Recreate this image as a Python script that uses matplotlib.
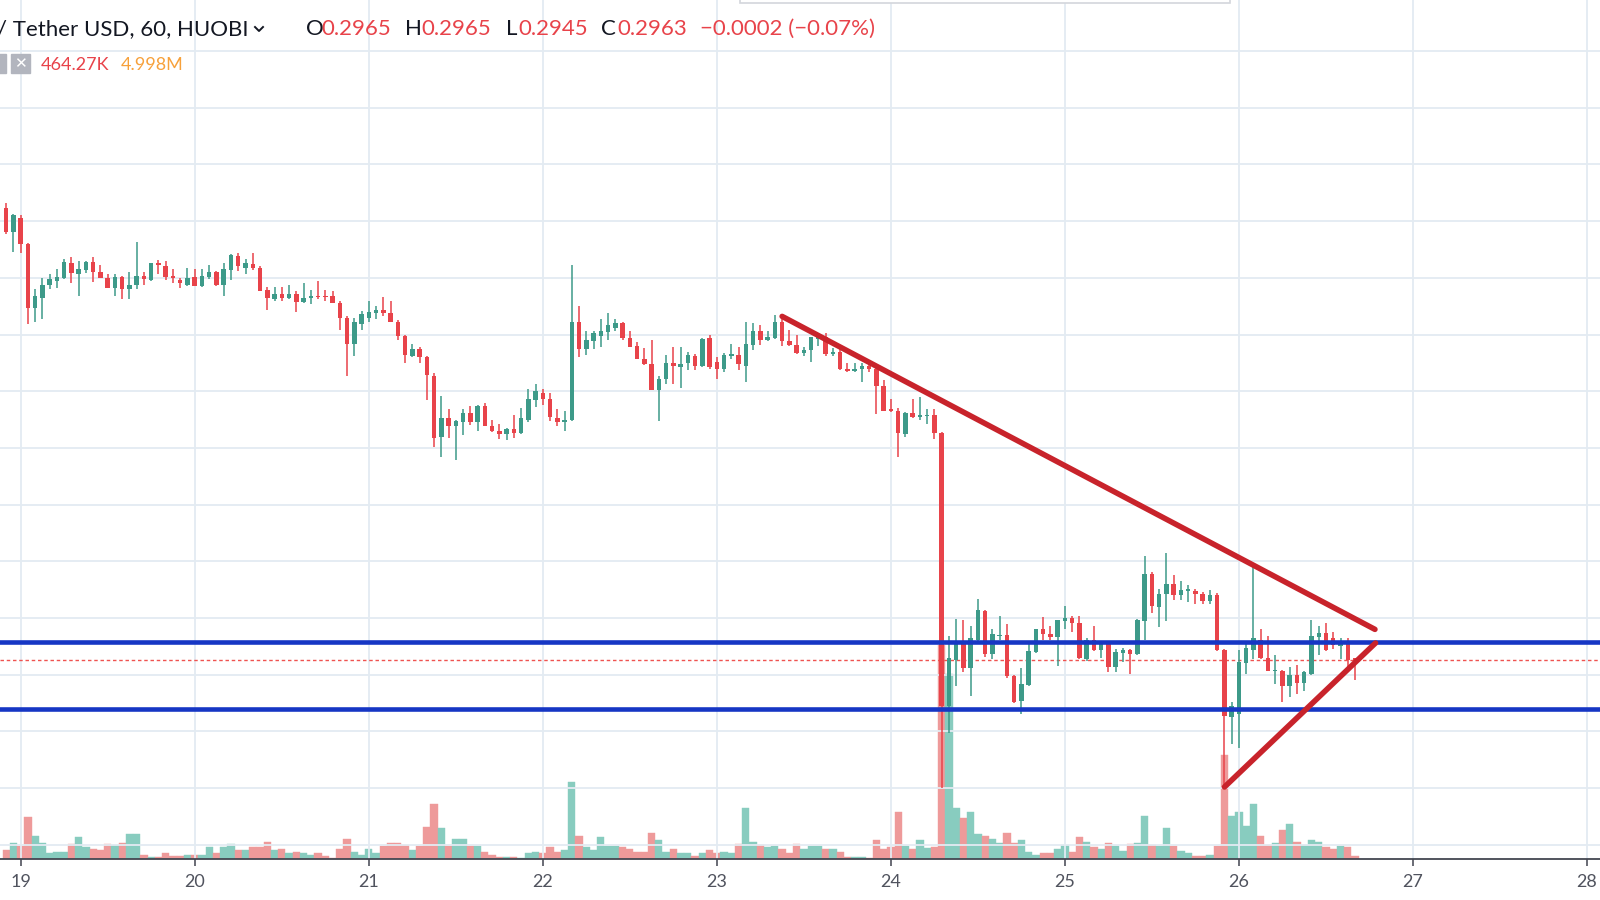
import numpy as np
import pandas as pd
import matplotlib
matplotlib.use("Agg")
import matplotlib.pyplot as plt
import matplotlib.dates as mdates
from matplotlib.patches import Rectangle
from matplotlib.lines import Line2D

plt.rcParams['font.family'] = ['Lato', 'DejaVu Sans']

# hourly candles from 2019-11-18 22:00, prices in units of 0.0001 USD
start = "2019-11-18 22:00"
opens = [3362, 3340,
         3353, 3330, 3273, 3282, 3294, 3297, 3300, 3313, 3303, 3307, 3314, 3305, 3300, 3291, 3301, 3290, 3294, 3302, 3298, 3313, 3310, 3302, 3298, 3294,
         3301, 3293, 3301, 3305, 3294, 3307, 3319, 3309, 3312, 3309, 3289, 3281, 3286, 3282, 3286, 3279, 3282, 3284, 3284, 3284, 3278, 3265, 3242, 3259,
         3265, 3269, 3272, 3269, 3261, 3249, 3231, 3237, 3230, 3213, 3160, 3176, 3169, 3173, 3181, 3173, 3187, 3169, 3165, 3162, 3167, 3163, 3175, 3192,
         3198, 3193, 3176, 3173, 3175, 3261, 3237, 3244, 3249, 3252, 3256, 3260, 3247, 3240, 3228, 3224, 3201, 3211, 3225, 3221, 3225, 3231, 3222, 3247,
         3226, 3220, 3231, 3232, 3222, 3241, 3253, 3245, 3247, 3261, 3244, 3241, 3234, 3236, 3246, 3248, 3233, 3235, 3220, 3218, 3220, 3222, 3220, 3205,
         3184, 3183, 3162, 3181, 3177, 3178, 3179, 3163, 2922, 2963, 2978, 2956, 2981, 3006, 2968, 2984, 2985, 2949, 2927, 2941, 2970, 2990, 2986, 2983,
         2997, 3000, 2996, 2964, 2981, 2972, 2978, 2957, 2969, 2972, 2968, 2997, 3039, 3010, 3021, 3030, 3020, 3024, 3024, 3021, 3015, 3020, 2972, 2913,
         2915, 2960, 2972, 2981, 2965, 2953, 2953, 2940, 2950, 2943, 2951, 2983, 2987, 2982, 2975, 2980, 2965]
highs = [3366, 3356,
         3355, 3331, 3290, 3300, 3303, 3308, 3317, 3318, 3315, 3315, 3318, 3311, 3303, 3303, 3302, 3305, 3332, 3305, 3313, 3316, 3315, 3308, 3300, 3309,
         3308, 3308, 3311, 3306, 3313, 3321, 3322, 3317, 3322, 3310, 3292, 3292, 3292, 3294, 3288, 3295, 3289, 3297, 3289, 3288, 3280, 3266, 3265, 3271,
         3280, 3275, 3283, 3280, 3263, 3250, 3242, 3239, 3231, 3216, 3196, 3184, 3175, 3184, 3187, 3188, 3190, 3175, 3171, 3168, 3179, 3185, 3202, 3206,
         3202, 3198, 3184, 3183, 3311, 3275, 3253, 3253, 3264, 3269, 3264, 3261, 3253, 3243, 3238, 3245, 3213, 3232, 3239, 3239, 3235, 3233, 3247, 3250,
         3230, 3234, 3242, 3239, 3261, 3260, 3258, 3253, 3267, 3266, 3254, 3250, 3239, 3248, 3250, 3251, 3238, 3238, 3225, 3225, 3225, 3225, 3221, 3210,
         3193, 3185, 3182, 3193, 3195, 3184, 3184, 3164, 2984, 2999, 2998, 2993, 3017, 3007, 2990, 3002, 2995, 2950, 2956, 2978, 2990, 3001, 2993, 2998,
         3011, 3002, 3002, 2982, 2993, 2979, 2979, 2973, 2974, 2973, 2999, 3055, 3041, 3026, 3057, 3038, 3033, 3029, 3026, 3023, 3025, 3022, 2973, 2926,
         2972, 2978, 3045, 2990, 2984, 2967, 2954, 2957, 2959, 2953, 2998, 2993, 2996, 2988, 2982, 2982, 2965]
lows = [3339, 3323,
        3322, 3259, 3261, 3264, 3290, 3291, 3299, 3295, 3284, 3304, 3296, 3300, 3291, 3284, 3281, 3281, 3290, 3294, 3297, 3303, 3298, 3295, 3291, 3293,
        3293, 3292, 3299, 3293, 3284, 3298, 3306, 3303, 3307, 3288, 3272, 3280, 3280, 3281, 3270, 3278, 3277, 3281, 3280, 3278, 3254, 3213, 3231, 3254,
        3261, 3264, 3266, 3261, 3245, 3225, 3230, 3225, 3192, 3151, 3142, 3159, 3139, 3161, 3170, 3165, 3169, 3164, 3158, 3157, 3159, 3162, 3173, 3186,
        3188, 3174, 3169, 3165, 3174, 3230, 3232, 3237, 3239, 3245, 3253, 3245, 3239, 3228, 3223, 3201, 3174, 3206, 3206, 3203, 3219, 3219, 3221, 3220,
        3211, 3217, 3228, 3219, 3208, 3236, 3241, 3244, 3246, 3240, 3240, 3233, 3231, 3226, 3240, 3231, 3231, 3219, 3217, 3217, 3208, 3217, 3180, 3183,
        3182, 3142, 3160, 3176, 3175, 3171, 3158, 2850, 2899, 2940, 2952, 2931, 2980, 2966, 2964, 2981, 2947, 2925, 2915, 2940, 2969, 2981, 2981, 2958,
        2990, 2988, 2964, 2962, 2971, 2965, 2952, 2952, 2961, 2951, 2967, 2981, 3004, 2992, 2997, 3016, 3016, 3014, 3012, 3012, 3012, 2971, 2851, 2889,
        2885, 2951, 2964, 2964, 2953, 2942, 2926, 2930, 2933, 2936, 2950, 2967, 2971, 2973, 2964, 2957, 2945]
closes = [3340, 3355,
          3330, 3273, 3284, 3294, 3299, 3301, 3314, 3304, 3308, 3314, 3305, 3300, 3291, 3301, 3290, 3294, 3302, 3299, 3313, 3311, 3301, 3300, 3295, 3300,
          3293, 3302, 3305, 3294, 3308, 3320, 3310, 3313, 3309, 3288, 3282, 3286, 3282, 3286, 3279, 3282, 3284, 3283, 3283, 3278, 3265, 3242, 3261, 3268,
          3270, 3272, 3269, 3261, 3249, 3232, 3237, 3230, 3214, 3159, 3176, 3169, 3174, 3181, 3173, 3187, 3169, 3165, 3162, 3167, 3163, 3176, 3193, 3200,
          3193, 3177, 3173, 3175, 3261, 3237, 3245, 3251, 3253, 3258, 3260, 3247, 3239, 3228, 3224, 3201, 3211, 3225, 3222, 3224, 3232, 3222, 3246, 3221,
          3220, 3232, 3233, 3224, 3242, 3253, 3245, 3248, 3261, 3244, 3241, 3234, 3236, 3248, 3248, 3233, 3235, 3220, 3218, 3220, 3222, 3220, 3205, 3183,
          3183, 3163, 3181, 3177, 3179, 3179, 3163, 2922, 2965, 2978, 2956, 2982, 3007, 2968, 2986, 2985, 2949, 2926, 2942, 2971, 2990, 2986, 2983, 2998,
          3000, 2996, 2965, 2981, 2972, 2978, 2957, 2970, 2972, 2968, 2998, 3039, 3011, 3021, 3030, 3020, 3025, 3025, 3021, 3015, 3020, 2972, 2914, 2922,
          2961, 2974, 2982, 2965, 2953, 2954, 2940, 2950, 2943, 2952, 2984, 2987, 2972, 2976, 2978, 2963, 2963]
# volume, millions
volumes = [1.26, 2.28,
           1.82, 5.92, 3.22, 2.28, 0.80, 0.98, 0.98, 2.06, 3.04, 1.64, 1.44, 1.26, 2.06, 1.96, 2.28, 3.46, 3.46, 0.56, 0.32, 0.32, 0.80, 0.42, 0.42, 0.56,
           0.56, 0.56, 1.64, 0.80, 1.64, 2.06, 1.26, 1.26, 1.64, 1.64, 2.42, 1.26, 1.40, 0.80, 0.98, 0.80, 0.56, 0.80, 0.42, 0.18, 1.40, 2.80, 0.98, 0.56,
           1.40, 0.80, 1.82, 2.28, 2.28, 1.96, 1.26, 1.82, 4.52, 7.70, 4.30, 1.82, 2.80, 2.80, 1.82, 1.82, 0.98, 0.56, 0.32, 0.32, 0.32, 0.18, 0.80, 0.98,
           0.80, 1.64, 0.98, 1.26, 10.82, 3.22, 1.64, 1.26, 3.04, 1.82, 1.82, 1.64, 1.40, 0.98, 0.98, 3.68, 2.66, 0.98, 1.40, 0.80, 0.80, 0.42, 0.80, 1.26,
           0.80, 0.98, 0.80, 2.06, 7.10, 2.42, 1.96, 1.64, 1.82, 1.44, 0.80, 2.06, 1.44, 1.82, 1.82, 1.40, 1.40, 0.98, 0.32, 0.32, 0.32, 0.18, 2.66, 1.44,
           1.64, 6.54, 1.82, 1.47, 2.66, 1.54, 1.68, 29.96, 25.90, 7.10, 5.70, 6.54, 3.50, 3.22, 2.80, 2.28, 3.68, 2.28, 2.66, 0.98, 0.56, 0.80, 0.80, 1.40,
           1.96, 0.98, 3.04, 2.42, 1.64, 1.40, 2.28, 1.82, 1.16, 2.06, 2.28, 6.06, 1.96, 1.82, 4.30, 1.82, 1.16, 0.80, 0.42, 0.42, 0.56, 1.82, 14.56, 6.02,
           6.54, 4.62, 7.70, 3.22, 1.96, 2.28, 4.06, 4.90, 2.42, 1.96, 2.66, 2.45, 1.68, 1.47, 1.82, 1.68, 0.46]

day_ticks = ["2019-11-%d" % d for d in range(19, 29)]
day_labels = [str(d) for d in range(19, 29)]

# drawn lines
resistance = [("2019-11-23 09:00", 0.3266), ("2019-11-26 18:45", 0.2990)]
support = [("2019-11-25 22:00", 0.2851), ("2019-11-26 18:50", 0.2978)]
zone_levels = [0.2979, 0.2920]
last_price = 0.2963

UP, DOWN = "#3d9a89", "#e8434a"
VUP, VDOWN = "#88ccbf", "#ee9a9a"
GRID = "#e3ebf2"
TXT = "#50535e"

times = pd.date_range(start, periods=len(opens), freq="h")
x = mdates.date2num(times)
o = np.array(opens) / 1e4
h = np.array(highs) / 1e4
l = np.array(lows) / 1e4
c = np.array(closes) / 1e4
up = c >= o

fig = plt.figure(figsize=(16, 9), dpi=100)
rect = [0, 41 / 900, 1, 859 / 900]
ax_vol = fig.add_axes(rect)
ax = fig.add_axes(rect, sharex=ax_vol)
ax.patch.set_visible(False)

# volume in the back
vcols = np.where(up, VUP, VDOWN)
ax_vol.bar(x, volumes, width=1.0 / 24, color=vcols, edgecolor=vcols, linewidth=0.3)
ax_vol.set_ylim(0, 859 * 0.14)
ax_vol.axis("off")

# candles
cols = np.where(up, UP, DOWN)
ax.vlines(x, l, h, colors=cols, lw=1.1, zorder=3)
ax.bar(x, np.maximum(np.abs(c - o), 0.00012), bottom=np.minimum(o, c),
       width=0.62 / 24, color=cols, linewidth=0, zorder=4)

ax.axhline(last_price, color="#ef5350", lw=1.0, ls=(0, (2.5, 2)), zorder=2)
for lv in zone_levels:
    ax.axhline(lv, color="#1636c4", lw=3.3, zorder=5)
for seg in (resistance, support):
    sx = mdates.date2num(pd.to_datetime([p[0] for p in seg]))
    sy = [p[1] for p in seg]
    ax.plot(sx, sy, color="#c8232b", lw=4.0, solid_capstyle="round", zorder=6)

d0 = mdates.date2num(pd.Timestamp("2019-11-19"))
ax.set_xlim(d0 - 20.7 / 174.04, d0 + (1600 - 20.7) / 174.04)
ax.set_ylim(0.27875, 0.35450)

ax.set_xticks(mdates.date2num(pd.to_datetime(day_ticks)))
ax.set_xticklabels(day_labels)
ax.set_yticks(np.arange(0.280, 0.3546, 0.005))
ax.set_yticklabels([])
ax.grid(True, color=GRID, lw=1.3, zorder=0)
ax.set_axisbelow(True)
ax.tick_params(axis="y", length=0)
ax.tick_params(axis="x", length=5, width=1.2, color=TXT, labelsize=13,
               labelcolor=TXT, pad=6)
for s in ("left", "right", "top"):
    ax.spines[s].set_visible(False)
ax.spines["bottom"].set_color("#434651")
ax.spines["bottom"].set_linewidth(1.3)


def fx(px):
    return px / 1600


def fy(py):
    return 1 - py / 900


# header
fig.text(fx(-3), fy(29), "/ Tether USD, 60, HUOBI", fontsize=16, color="#131722", va="center")
fig.add_artist(Line2D([fx(255), fx(259), fx(263)], [fy(27), fy(31), fy(27)],
                      color="#131722", lw=1.4, transform=fig.transFigure))
parts = [(306, "O", "#131722"), (321, "0.2965", "#e8434a"),
         (405, "H", "#131722"), (421, "0.2965", "#e8434a"),
         (506, "L", "#131722"), (518, "0.2945", "#e8434a"),
         (601, "C", "#131722"), (617, "0.2963", "#e8434a"),
         (700, "\u22120.0002 (\u22120.07%)", "#e8434a")]
for px, s, col in parts:
    fig.text(fx(px), fy(29), s, fontsize=16, color=col, va="center")

fig.add_artist(Rectangle((fx(-9), fy(73)), 15 / 1600, 19 / 900, color="#b2b5be",
                         transform=fig.transFigure))
fig.add_artist(Rectangle((fx(11), fy(73)), 19 / 1600, 19 / 900, color="#b2b5be",
                         transform=fig.transFigure))
fig.text(fx(20.5), fy(63.5), "\u2715", fontsize=11, color="white", ha="center", va="center",
         family=["DejaVu Sans"])
fig.text(fx(41), fy(65), "464.27K", fontsize=13, color="#e8434a", va="center")
fig.text(fx(121), fy(65), "4.998M", fontsize=13, color="#f7a13b", va="center")

# edge of a floating panel at the top
fig.add_artist(Rectangle((fx(740), fy(3)), 490 / 1600, 10 / 900, facecolor="white",
                         edgecolor="#d3d6dc", lw=1.2, transform=fig.transFigure))

fig.savefig("out.png", dpi=100)
